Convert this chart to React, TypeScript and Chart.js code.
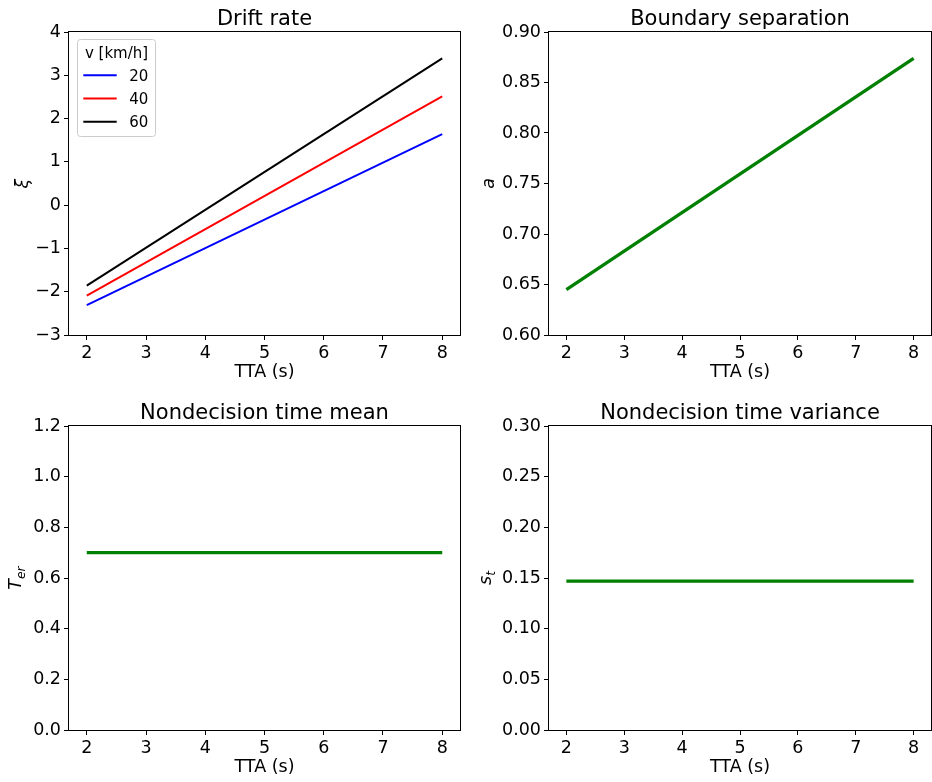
import React, { useEffect, useRef } from 'react';
import { Chart, registerables } from 'chart.js';

Chart.register(...registerables);

// ---------------- data ----------------
const tta = [2, 8];
const xTicks = [2, 3, 4, 5, 6, 7, 8];
const xTickLabels = ['2', '3', '4', '5', '6', '7', '8'];

const speedLabels = ['20', '40', '60'];
const speedColors = ['#0000ff', '#ff0000', '#000000'];
const drift20 = [-2.31, 1.64];
const drift40 = [-2.09, 2.51];
const drift60 = [-1.86, 3.39];

const boundary = [0.645, 0.874];
const terMean = [0.7, 0.7];
const stVar = [0.147, 0.147];

const driftTicks = [-3, -2, -1, 0, 1, 2, 3, 4];
const driftTickLabels = ['\u22123', '\u22122', '\u22121', '0', '1', '2', '3', '4'];
const boundaryTicks = [0.6, 0.65, 0.7, 0.75, 0.8, 0.85, 0.9];
const boundaryTickLabels = ['0.60', '0.65', '0.70', '0.75', '0.80', '0.85', '0.90'];
const terTicks = [0, 0.2, 0.4, 0.6, 0.8, 1.0, 1.2];
const terTickLabels = ['0.0', '0.2', '0.4', '0.6', '0.8', '1.0', '1.2'];
const stTicks = [0, 0.05, 0.1, 0.15, 0.2, 0.25, 0.3];
const stTickLabels = ['0.00', '0.05', '0.10', '0.15', '0.20', '0.25', '0.30'];

const legendTitle = 'v [km/h]';
const xAxisTitle = 'TTA (s)';

// ---------------- style ----------------
const FONT = "'DejaVu Sans', 'Liberation Sans', sans-serif";
const TICK_SIZE = 17.5;
const TITLE_SIZE = 21;
const GREEN = '#008000';

const pts = (ys: number[]) => tta.map((x, i) => ({ x, y: ys[i] }));

type Spec = {
  title: string;
  left: number; top: number; width: number; height: number;
  plotLeft: number; plotRight: number; plotTop: number; plotBottom: number;
  xTitlePad: number;
  yMin: number; yMax: number; yTicks: number[]; yTickLabels: string[];
  yLabel: string; yLabelSub: string; yLabelX: number;
  datasets: any[];
  legend: boolean;
};

const col0 = { left: 0, width: 470, plotLeft: 69, plotRight: 460 };
const col1 = { left: 470, width: 462, plotLeft: 79, plotRight: 461 };
const row0 = { top: 0, height: 390, plotTop: 32, plotBottom: 335, xTitlePad: 7 };
const row1 = { top: 390, height: 392, plotTop: 36, plotBottom: 340, xTitlePad: 4 };

const greenSet = (ys: number[]) => [{
  label: '', data: pts(ys), borderColor: GREEN, backgroundColor: GREEN,
  borderWidth: 3.3, pointRadius: 0, fill: false, tension: 0,
}];

const specs: Spec[] = [
  {
    title: 'Drift rate', ...col0, ...row0,
    yMin: -3, yMax: 4, yTicks: driftTicks, yTickLabels: driftTickLabels,
    yLabel: '\u03BE', yLabelSub: '', yLabelX: 28,
    datasets: [drift20, drift40, drift60].map((d, i) => ({
      label: speedLabels[i], data: pts(d), borderColor: speedColors[i], backgroundColor: speedColors[i],
      borderWidth: 2, pointRadius: 0, fill: false, tension: 0,
    })),
    legend: true,
  },
  {
    title: 'Boundary separation', ...col1, ...row0,
    yMin: 0.6, yMax: 0.9, yTicks: boundaryTicks, yTickLabels: boundaryTickLabels,
    yLabel: 'a', yLabelSub: '', yLabelX: 24,
    datasets: greenSet(boundary), legend: false,
  },
  {
    title: 'Nondecision time mean', ...col0, ...row1,
    yMin: 0, yMax: 1.2, yTicks: terTicks, yTickLabels: terTickLabels,
    yLabel: 'T', yLabelSub: 'er', yLabelX: 21,
    datasets: greenSet(terMean), legend: false,
  },
  {
    title: 'Nondecision time variance', ...col1, ...row1,
    yMin: 0, yMax: 0.3, yTicks: stTicks, yTickLabels: stTickLabels,
    yLabel: 's', yLabelSub: 't', yLabelX: 21,
    datasets: greenSet(stVar), legend: false,
  },
];

const framePlugin = {
  id: 'frame',
  afterDatasetsDraw(chart: any) {
    const { ctx, chartArea: a } = chart;
    ctx.save();
    ctx.strokeStyle = '#000';
    ctx.lineWidth = 1;
    ctx.strokeRect(Math.round(a.left) - 0.5, Math.round(a.top) - 0.5,
      Math.round(a.right - a.left) + 1, Math.round(a.bottom - a.top) + 1);
    ctx.restore();
  },
};

const legendPlugin = {
  id: 'boxLegend',
  afterDatasetsDraw(chart: any, _args: any, opts: any) {
    if (!opts || !opts.show) return;
    const { ctx, chartArea: a } = chart;
    const x0 = a.left + 8.5, y0 = a.top + 7.5, w = 78, h = 97, r = 3;
    ctx.save();
    ctx.beginPath();
    ctx.moveTo(x0 + r, y0);
    ctx.lineTo(x0 + w - r, y0);
    ctx.quadraticCurveTo(x0 + w, y0, x0 + w, y0 + r);
    ctx.lineTo(x0 + w, y0 + h - r);
    ctx.quadraticCurveTo(x0 + w, y0 + h, x0 + w - r, y0 + h);
    ctx.lineTo(x0 + r, y0 + h);
    ctx.quadraticCurveTo(x0, y0 + h, x0, y0 + h - r);
    ctx.lineTo(x0, y0 + r);
    ctx.quadraticCurveTo(x0, y0, x0 + r, y0);
    ctx.closePath();
    ctx.fillStyle = 'rgba(255,255,255,0.8)';
    ctx.fill();
    ctx.strokeStyle = '#cccccc';
    ctx.lineWidth = 1;
    ctx.stroke();
    ctx.font = `15px ${FONT}`;
    ctx.fillStyle = '#000';
    ctx.textBaseline = 'alphabetic';
    ctx.textAlign = 'center';
    ctx.fillText(legendTitle, x0 + w / 2, a.top + 26);
    chart.data.datasets.forEach((ds: any, i: number) => {
      const yy = a.top + 43.3 + i * 23.2;
      ctx.strokeStyle = ds.borderColor;
      ctx.lineWidth = 2;
      ctx.beginPath();
      ctx.moveTo(a.left + 14.3, yy);
      ctx.lineTo(a.left + 47.7, yy);
      ctx.stroke();
      ctx.textAlign = 'left';
      ctx.fillStyle = '#000';
      ctx.fillText(ds.label, a.left + 60.3, yy + 5.2);
    });
    ctx.restore();
  },
};

const yLabelPlugin = {
  id: 'yLabel',
  afterDraw(chart: any, _args: any, opts: any) {
    if (!opts || !opts.text) return;
    const { ctx, chartArea: a } = chart;
    const size = TICK_SIZE;
    const f = `italic ${size}px ${FONT}`;
    const fs = `italic ${size * 0.7}px ${FONT}`;
    ctx.save();
    ctx.font = f;
    const wb = ctx.measureText(opts.text).width;
    ctx.font = fs;
    const ws = opts.sub ? ctx.measureText(opts.sub).width : 0;
    const total = wb + ws;
    const cy = (a.top + a.bottom) / 2;
    ctx.translate(opts.x, cy);
    ctx.rotate(-Math.PI / 2);
    ctx.fillStyle = '#000';
    ctx.textBaseline = 'alphabetic';
    ctx.textAlign = 'left';
    ctx.font = f;
    ctx.fillText(opts.text, -total / 2, 0);
    if (opts.sub) {
      ctx.font = fs;
      ctx.fillText(opts.sub, -total / 2 + wb, size * 0.22);
    }
    ctx.restore();
  },
};

function Panel({ spec }: { spec: Spec }) {
  const ref = useRef<HTMLCanvasElement | null>(null);
  useEffect(() => {
    if (!ref.current) return;
    const s = spec;
    const tickFont = { family: FONT, size: TICK_SIZE, lineHeight: 1.2 };
    const chart = new Chart(ref.current, {
      type: 'line',
      data: { datasets: s.datasets },
      plugins: [framePlugin, legendPlugin, yLabelPlugin],
      options: {
        responsive: false,
        animation: false,
        devicePixelRatio: 1,
        events: [],
        layout: { padding: { left: 0, right: s.width - s.plotRight, top: 0, bottom: 0 } },
        plugins: {
          legend: { display: false },
          tooltip: { enabled: false },
          title: {
            display: true,
            text: s.title,
            fullSize: false,
            color: '#000',
            font: { family: FONT, size: TITLE_SIZE, weight: 'normal', lineHeight: 1 },
            padding: { top: s.plotTop - TITLE_SIZE - 2, bottom: 2 },
          },
          boxLegend: { show: s.legend },
          yLabel: { text: s.yLabel, sub: s.yLabelSub, x: s.yLabelX },
        } as any,
        scales: {
          x: {
            type: 'linear',
            min: 1.7,
            max: 8.3,
            afterBuildTicks: (sc: any) => { sc.ticks = xTicks.map((v) => ({ value: v })); },
            afterFit: (sc: any) => { sc.height = s.height - s.plotBottom; },
            ticks: {
              autoSkip: false, maxRotation: 0, minRotation: 0, padding: 3, color: '#000', font: tickFont,
              callback: (_v: any, i: number) => xTickLabels[i],
            },
            grid: { display: true, drawOnChartArea: false, drawTicks: true, tickLength: 5, color: '#000', lineWidth: 1 },
            border: { display: false },
            title: {
              display: true, text: xAxisTitle, color: '#000', font: tickFont,
              padding: { top: 0, bottom: s.xTitlePad },
            },
          },
          y: {
            type: 'linear',
            min: s.yMin,
            max: s.yMax,
            afterBuildTicks: (sc: any) => { sc.ticks = s.yTicks.map((v) => ({ value: v })); },
            afterFit: (sc: any) => { sc.width = s.plotLeft; },
            ticks: {
              autoSkip: false, padding: 3, color: '#000', font: tickFont,
              callback: (_v: any, i: number) => s.yTickLabels[i],
            },
            grid: { display: true, drawOnChartArea: false, drawTicks: true, tickLength: 5, color: '#000', lineWidth: 1 },
            border: { display: false },
            title: { display: false },
          },
        },
      } as any,
    });
    return () => chart.destroy();
  }, [spec]);
  return (
    <canvas
      ref={ref}
      width={spec.width}
      height={spec.height}
      style={{ position: 'absolute', left: spec.left, top: spec.top, width: spec.width, height: spec.height, display: 'block' }}
    />
  );
}

export default function App() {
  return (
    <div style={{ position: 'absolute', left: 0, top: 0, width: 932, height: 782, background: '#fff', overflow: 'hidden' }}>
      {specs.map((s, i) => <Panel key={i} spec={s} />)}
    </div>
  );
}
